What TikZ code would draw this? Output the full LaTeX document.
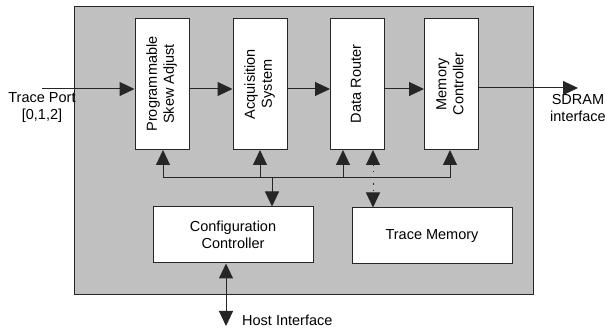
\documentclass[tikz,border=0pt]{standalone}
\usepackage{fontspec}
\setmainfont{Liberation Sans}
\usetikzlibrary{arrows.meta,calc}
\definecolor{diaGreyFill}{HTML}{C0C0C0}
\definecolor{diaLine}{HTML}{262626}

\tikzset{
  blk/.style={draw=diaLine, fill=white, line width=1pt, inner sep=0pt},
  vblk/.style={blk, minimum width=54pt, minimum height=131pt},
  hblk/.style={blk, minimum width=160pt, minimum height=56pt, align=center},
  lbl/.style={inner sep=0pt, align=center},
  sig/.style={draw=diaLine, line width=1pt, -{Triangle[length=15pt,width=14pt]}},
  bisig/.style={draw=diaLine, line width=1pt,
    {Triangle[length=15pt,width=14pt]}-{Triangle[length=15pt,width=14pt]}},
  bus/.style={draw=diaLine, line width=1pt}
}
\newcommand{\vlabel}[1]{\rotatebox{90}{\begin{tabular}{@{}c@{}}#1\end{tabular}}}

\begin{document}
\begin{tikzpicture}[x=1pt, y=-1pt, font=\fontsize{14.5}{17}\selectfont]

% --- FRAME ---
\useasboundingbox (0,0) rectangle (605,328);
\node[draw=diaLine, fill=diaGreyFill, line width=1pt, minimum width=459pt,
  minimum height=288pt, inner sep=0pt] (board) at (303.5,151) {};

% --- PIPELINE BLOCKS ---
\node[vblk] (psa) at (162,84)   {\vlabel{Programmable\\Skew Adjust}};
\node[vblk] (acq) at (260,84)   {\vlabel{Acquisition\\System}};
\node[vblk] (dr)  at (357.5,84) {\vlabel{Data Router}};
\node[vblk] (mc)  at (451.5,84) {\vlabel{Memory\\Controller}};

% --- LOWER BLOCKS ---
\node[hblk] (cfg)  at (233,235) {Configuration\\Controller};
\node[hblk] (tmem) at (432,236) {Trace Memory};

% --- DATA PATH ---
\coordinate (tpin) at (42,89);
\coordinate (sdout) at (578,88);
\draw[sig] (tpin) -- (tpin -| psa.west);
\draw[sig] (psa.east |- tpin) -- (acq.west |- tpin);
\draw[sig] (acq.east |- tpin) -- (dr.west |- tpin);
\draw[sig] (dr.east |- tpin) -- (mc.west |- tpin);
\draw[sig] (mc.east |- sdout) -- (sdout);
\node[lbl] (tplbl) at (42,108) {Trace Port\\{[0,1,2]}};
\node[lbl] (sdlbl) at (578,108) {SDRAM\\interface};

% --- CONTROL BUS ---
\coordinate (busL) at (163,178);
\coordinate (busA) at (260,178);
\coordinate (busC) at (272,178);
\coordinate (busD) at (343,178);
\coordinate (busR) at (450,178);
\draw[bus] (busL) -- (busR);
\draw[sig] (busL) -- (busL |- psa.south);
\draw[sig] (busA) -- (busA |- acq.south);
\draw[sig] (busD) -- (busD |- dr.south);
\draw[sig] (busR) -- (busR |- mc.south);
\draw[sig] (busC) -- (busC |- cfg.north);

% --- TRACE MEMORY LINK ---
\coordinate (tmx) at (373,0);
\draw[bisig, dash pattern=on 1.2pt off 5pt] (tmx |- dr.south) -- (tmx |- tmem.north);

% --- HOST ---
\coordinate (hostout) at (226,326);
\draw[bisig] (hostout |- cfg.south) -- (hostout);
\node[lbl, anchor=base west] (hostlbl) at (242,326) {Host Interface};

\end{tikzpicture}
\end{document}
